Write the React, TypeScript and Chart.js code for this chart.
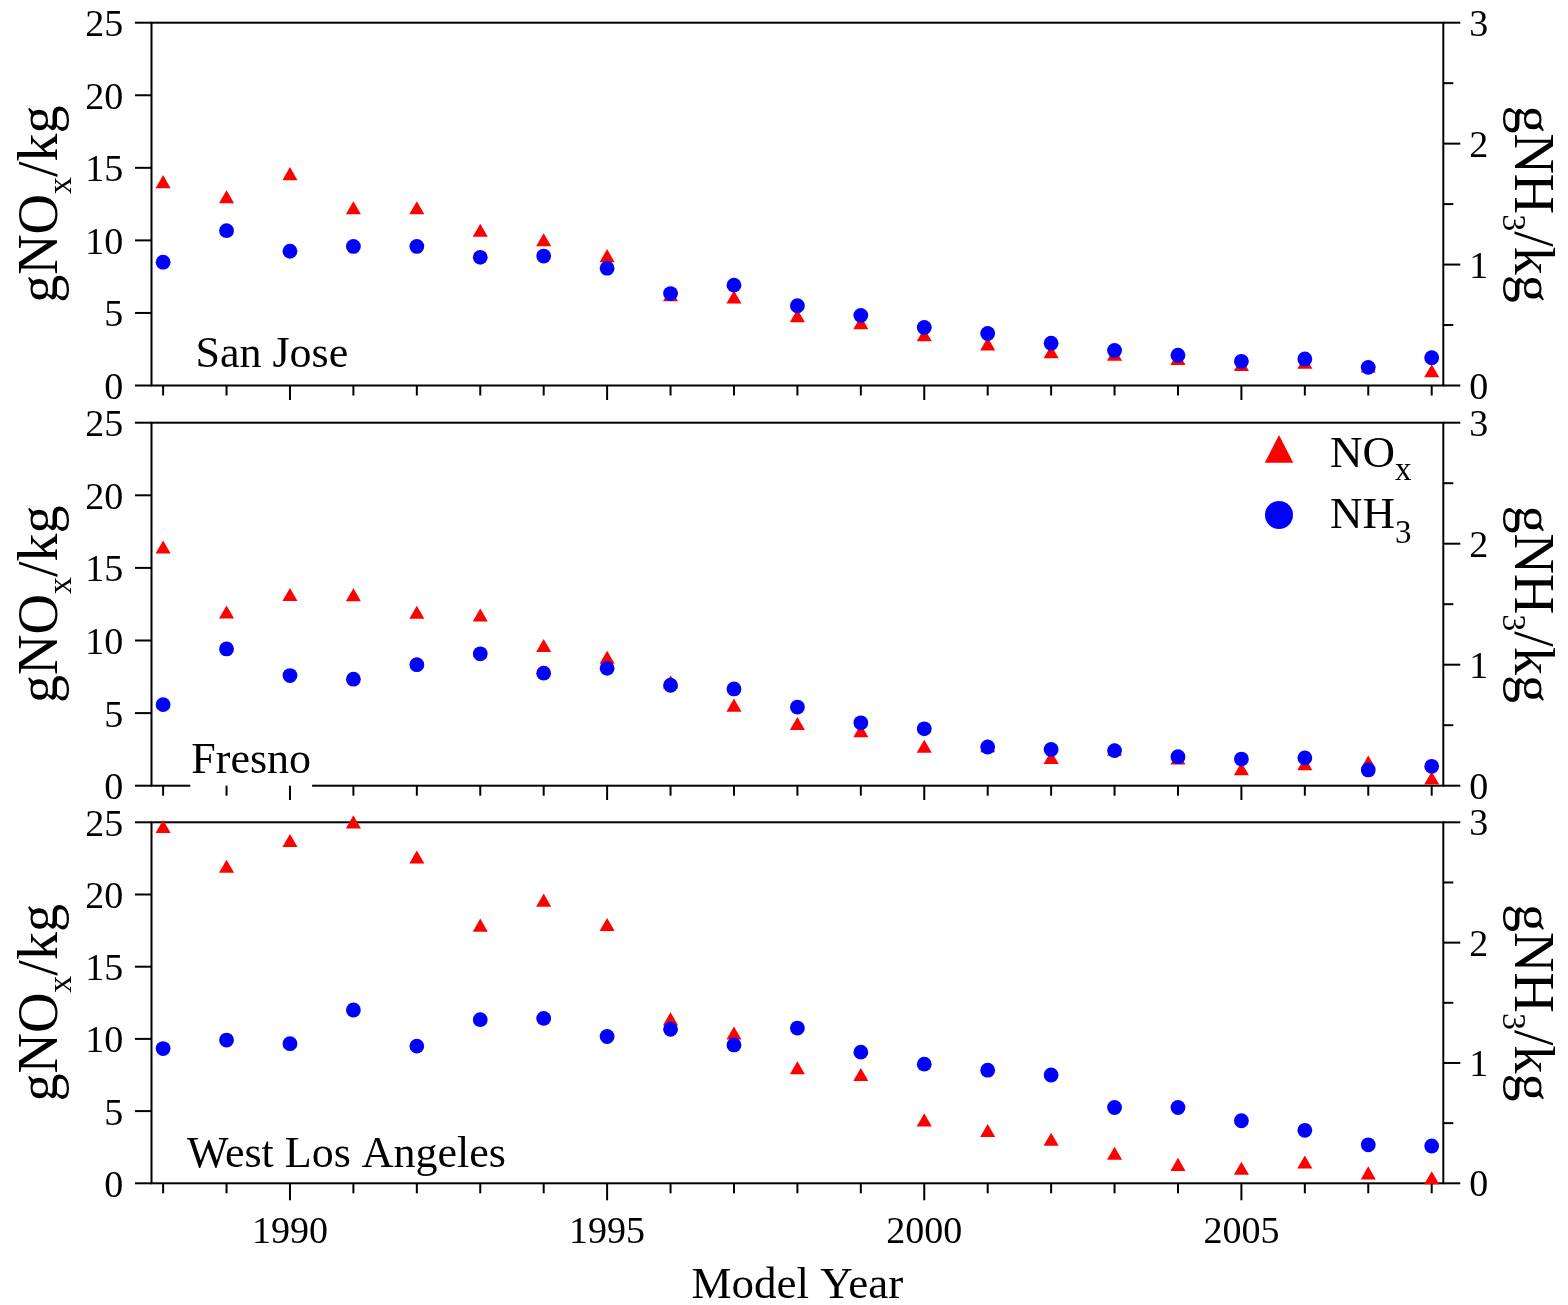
import React, { useEffect, useRef } from "react";
import { Chart, registerables } from "chart.js";

Chart.register(...registerables);

// ---------------- data ----------------
const years = [1988, 1989, 1990, 1991, 1992, 1993, 1994, 1995, 1996, 1997, 1998, 1999, 2000, 2001, 2002, 2003, 2004, 2005, 2006, 2007, 2008];

const sanJoseNOx = [13.9, 12.85, 14.45, 12.1, 12.1, 10.55, 9.9, 8.8, 6.1, 5.95, 4.65, 4.17, 3.35, 2.72, 2.17, 2.0, 1.72, 1.3, 1.45, 1.2, 0.86];
const sanJoseNH3 = [1.02, 1.28, 1.11, 1.15, 1.15, 1.06, 1.07, 0.97, 0.76, 0.83, 0.66, 0.58, 0.48, 0.43, 0.35, 0.29, 0.25, 0.2, 0.22, 0.15, 0.23];

const fresnoNOx = [16.29, 11.81, 13.02, 13.0, 11.8, 11.6, 9.51, 8.7, 7.0, 5.4, 4.14, 3.64, 2.57, 2.6, 1.8, 2.36, 1.76, 1.02, 1.37, 1.48, 0.38];
const fresnoNH3 = [0.67, 1.13, 0.91, 0.88, 1.0, 1.09, 0.93, 0.97, 0.83, 0.8, 0.65, 0.52, 0.47, 0.32, 0.3, 0.29, 0.24, 0.22, 0.23, 0.13, 0.16];

const westLANOx = [24.56, 21.81, 23.59, 24.88, 22.44, 17.73, 19.46, 17.77, 11.24, 10.26, 7.85, 7.38, 4.24, 3.51, 2.9, 1.93, 1.16, 0.89, 1.32, 0.57, 0.23];
const westLANH3 = [1.12, 1.19, 1.16, 1.44, 1.14, 1.36, 1.37, 1.22, 1.28, 1.15, 1.29, 1.09, 0.99, 0.94, 0.9, 0.63, 0.63, 0.52, 0.44, 0.32, 0.31];

const leftTicks = [0, 5, 10, 15, 20, 25];
const rightTicks = [0, 1, 2, 3];
const rightMinorTicks = [0.5, 1.5, 2.5];
const xMajorTicks = [1990, 1995, 2000, 2005];
const xAllTicks = years;

const panelNames = ["San Jose", "Fresno", "West Los Angeles"];

// ---------------- style / layout ----------------
const FAMILY = '"Liberation Serif", "Times New Roman", Times, serif';
const W = 1568;
const AREA_LEFT = 151.5;
const AREA_RIGHT = 1443.3;
const X_MIN = 1987.817;
const X_MAX = 2008.183;

type Seg = { t: string; sub?: boolean };

function segsWidth(ctx: CanvasRenderingContext2D, segs: Seg[], font: string, subFont: string) {
  let w = 0;
  for (const s of segs) {
    ctx.font = s.sub ? subFont : font;
    w += ctx.measureText(s.t).width;
  }
  return w;
}

function drawSegs(ctx: CanvasRenderingContext2D, segs: Seg[], x: number, y: number, font: string, subFont: string, subShift: number) {
  let cx = x;
  ctx.textBaseline = "alphabetic";
  ctx.textAlign = "left";
  for (const s of segs) {
    ctx.font = s.sub ? subFont : font;
    ctx.fillText(s.t, cx, s.sub ? y + subShift : y);
    cx += ctx.measureText(s.t).width;
  }
  return cx;
}

const leftTitle: Seg[] = [{ t: "gNO" }, { t: "x", sub: true }, { t: "/kg" }];
const rightTitle: Seg[] = [{ t: "gNH" }, { t: "3", sub: true }, { t: "/kg" }];

type PanelCfg = {
  name: string;
  nox: number[];
  nh3: number[];
  canvasTop: number;
  canvasH: number;
  areaTop: number;
  areaBottom: number;
  labelDx: number;
  labelDy: number;
  whiteBox: boolean;
  legend: boolean;
  xLabels: boolean;
};

const panels: PanelCfg[] = [
  { name: panelNames[0], nox: sanJoseNOx, nh3: sanJoseNH3, canvasTop: 0, canvasH: 400, areaTop: 22.7, areaBottom: 385.5, labelDx: 44, labelDy: -18.8, whiteBox: false, legend: false, xLabels: false },
  { name: panelNames[1], nox: fresnoNOx, nh3: fresnoNH3, canvasTop: 400, canvasH: 400, areaTop: 22.7, areaBottom: 385.7, labelDx: 39.8, labelDy: -12.4, whiteBox: true, legend: true, xLabels: false },
  { name: panelNames[2], nox: westLANOx, nh3: westLANH3, canvasTop: 800, canvasH: 505, areaTop: 22.3, areaBottom: 383.3, labelDx: 35.4, labelDy: -16.6, whiteBox: false, legend: false, xLabels: true },
];

function line(ctx: CanvasRenderingContext2D, x1: number, y1: number, x2: number, y2: number) {
  ctx.beginPath();
  ctx.moveTo(x1, y1);
  ctx.lineTo(x2, y2);
  ctx.stroke();
}

function Panel({ cfg }: { cfg: PanelCfg }) {
  const ref = useRef<HTMLCanvasElement>(null);

  useEffect(() => {
    const canvas = ref.current!;
    const framePlugin = {
      id: "frame",
      beforeDatasetsDraw(chart: any) {
        const ctx: CanvasRenderingContext2D = chart.ctx;
        const { left, right, top, bottom } = chart.chartArea;
        const xs = chart.scales.x;
        const yl = chart.scales.y;
        const yr = chart.scales.y2;
        ctx.save();
        ctx.strokeStyle = "#000";
        ctx.lineWidth = 2;
        ctx.strokeRect(left, top, right - left, bottom - top);
        if (cfg.whiteBox) {
          ctx.font = `44px ${FAMILY}`;
          const w = ctx.measureText(cfg.name).width;
          const nx = left + cfg.labelDx;
          const ny = bottom + cfg.labelDy;
          ctx.fillStyle = "#fff";
          ctx.fillRect(nx - 1, ny - 34, w + 2, bottom - ny + 35.5);
        }
        for (const v of leftTicks) {
          const y = yl.getPixelForValue(v);
          line(ctx, left, y, left - 16.5, y);
        }
        for (const v of rightTicks) {
          const y = yr.getPixelForValue(v);
          line(ctx, right, y, right + 17, y);
        }
        for (const v of rightMinorTicks) {
          const y = yr.getPixelForValue(v);
          line(ctx, right, y, right + 10, y);
        }
        for (const v of xAllTicks) {
          const x = xs.getPixelForValue(v);
          const len = xMajorTicks.includes(v) ? 17 : 10;
          line(ctx, x, bottom, x, bottom + len);
        }
        ctx.restore();
      },
      afterDraw(chart: any) {
        const ctx: CanvasRenderingContext2D = chart.ctx;
        const { left, right, top, bottom } = chart.chartArea;
        const xs = chart.scales.x;
        const yl = chart.scales.y;
        const yr = chart.scales.y2;
        ctx.save();
        ctx.fillStyle = "#000";
        // tick labels
        ctx.font = `38px ${FAMILY}`;
        ctx.textBaseline = "alphabetic";
        ctx.textAlign = "right";
        for (const v of leftTicks) {
          ctx.fillText(String(v), left - 28.2, yl.getPixelForValue(v) + 13.5);
        }
        ctx.textAlign = "left";
        for (const v of rightTicks) {
          ctx.fillText(String(v), right + 26, yr.getPixelForValue(v) + 13);
        }
        if (cfg.xLabels) {
          ctx.textAlign = "center";
          for (const v of xMajorTicks) {
            ctx.fillText(String(v), xs.getPixelForValue(v), bottom + 60);
          }
          ctx.font = `45px ${FAMILY}`;
          ctx.fillText("Model Year", (left + right) / 2, bottom + 115);
        }
        // axis titles
        const midY = (top + bottom) / 2;
        const tFont = `56px ${FAMILY}`;
        const sFont = `34px ${FAMILY}`;
        const lw = segsWidth(ctx, leftTitle, tFont, sFont);
        ctx.save();
        ctx.translate(57, midY);
        ctx.rotate(-Math.PI / 2);
        drawSegs(ctx, leftTitle, -lw / 2, 0, tFont, sFont, 14);
        ctx.restore();
        const rw = segsWidth(ctx, rightTitle, tFont, sFont);
        ctx.save();
        ctx.translate(1515, midY);
        ctx.rotate(Math.PI / 2);
        drawSegs(ctx, rightTitle, -rw / 2, 0, tFont, sFont, 12);
        ctx.restore();
        // panel name
        ctx.font = `44px ${FAMILY}`;
        const nx = left + cfg.labelDx;
        const ny = bottom + cfg.labelDy;
        ctx.textAlign = "left";
        ctx.textBaseline = "alphabetic";
        ctx.fillText(cfg.name, nx, ny);
        // legend
        if (cfg.legend) {
          const mx = right - 164.3;
          ctx.fillStyle = "#FF0000";
          ctx.beginPath();
          ctx.moveTo(mx, top + 12.3);
          ctx.lineTo(mx - 14.2, top + 40);
          ctx.lineTo(mx + 14.2, top + 40);
          ctx.closePath();
          ctx.fill();
          ctx.fillStyle = "#0000FF";
          ctx.beginPath();
          ctx.arc(mx, top + 92.3, 14, 0, Math.PI * 2);
          ctx.fill();
          ctx.fillStyle = "#000";
          const lf = `45px ${FAMILY}`;
          const lsf = `33px ${FAMILY}`;
          drawSegs(ctx, [{ t: "NO" }, { t: "x", sub: true }], right - 113.3, top + 44, lf, lsf, 13);
          drawSegs(ctx, [{ t: "NH" }, { t: "3", sub: true }], right - 113.3, top + 105.6, lf, lsf, 15);
        }
        ctx.restore();
      },
    };

    const chart = new Chart(canvas, {
      type: "scatter",
      data: {
        datasets: [
          {
            label: "NH3",
            data: years.map((x, i) => ({ x, y: cfg.nh3[i] })),
            yAxisID: "y2",
            pointStyle: "circle",
            pointRadius: 7.4,
            pointHoverRadius: 7.4,
            backgroundColor: "#0000FF",
            borderColor: "#0000FF",
            borderWidth: 0,
            order: 1,
            clip: false,
          } as any,
          {
            label: "NOx",
            data: years.map((x, i) => ({ x, y: cfg.nox[i] })),
            yAxisID: "y",
            pointStyle: "triangle",
            pointRadius: 8.7,
            pointHoverRadius: 8.7,
            backgroundColor: "#FF0000",
            borderColor: "#FF0000",
            borderWidth: 0,
            order: 2,
            clip: false,
          } as any,
        ],
      },
      options: {
        responsive: false,
        animation: false,
        events: [],
        layout: {
          autoPadding: false,
          padding: { left: AREA_LEFT, right: W - AREA_RIGHT, top: cfg.areaTop, bottom: cfg.canvasH - cfg.areaBottom },
        } as any,
        plugins: { legend: { display: false }, tooltip: { enabled: false } },
        scales: {
          x: { type: "linear", min: X_MIN, max: X_MAX, display: false },
          y: { type: "linear", position: "left", min: 0, max: 25, display: false },
          y2: { type: "linear", position: "right", min: 0, max: 3, display: false },
        },
      },
      plugins: [framePlugin],
    });
    return () => chart.destroy();
  }, [cfg]);

  return (
    <canvas
      ref={ref}
      width={W}
      height={cfg.canvasH}
      style={{ position: "absolute", left: 0, top: cfg.canvasTop, width: W, height: cfg.canvasH }}
    />
  );
}

export default function App() {
  return (
    <div style={{ position: "absolute", left: 0, top: 0, width: W, height: 1305, background: "#fff" }}>
      {panels.map((p) => (
        <Panel key={p.name} cfg={p} />
      ))}
    </div>
  );
}
